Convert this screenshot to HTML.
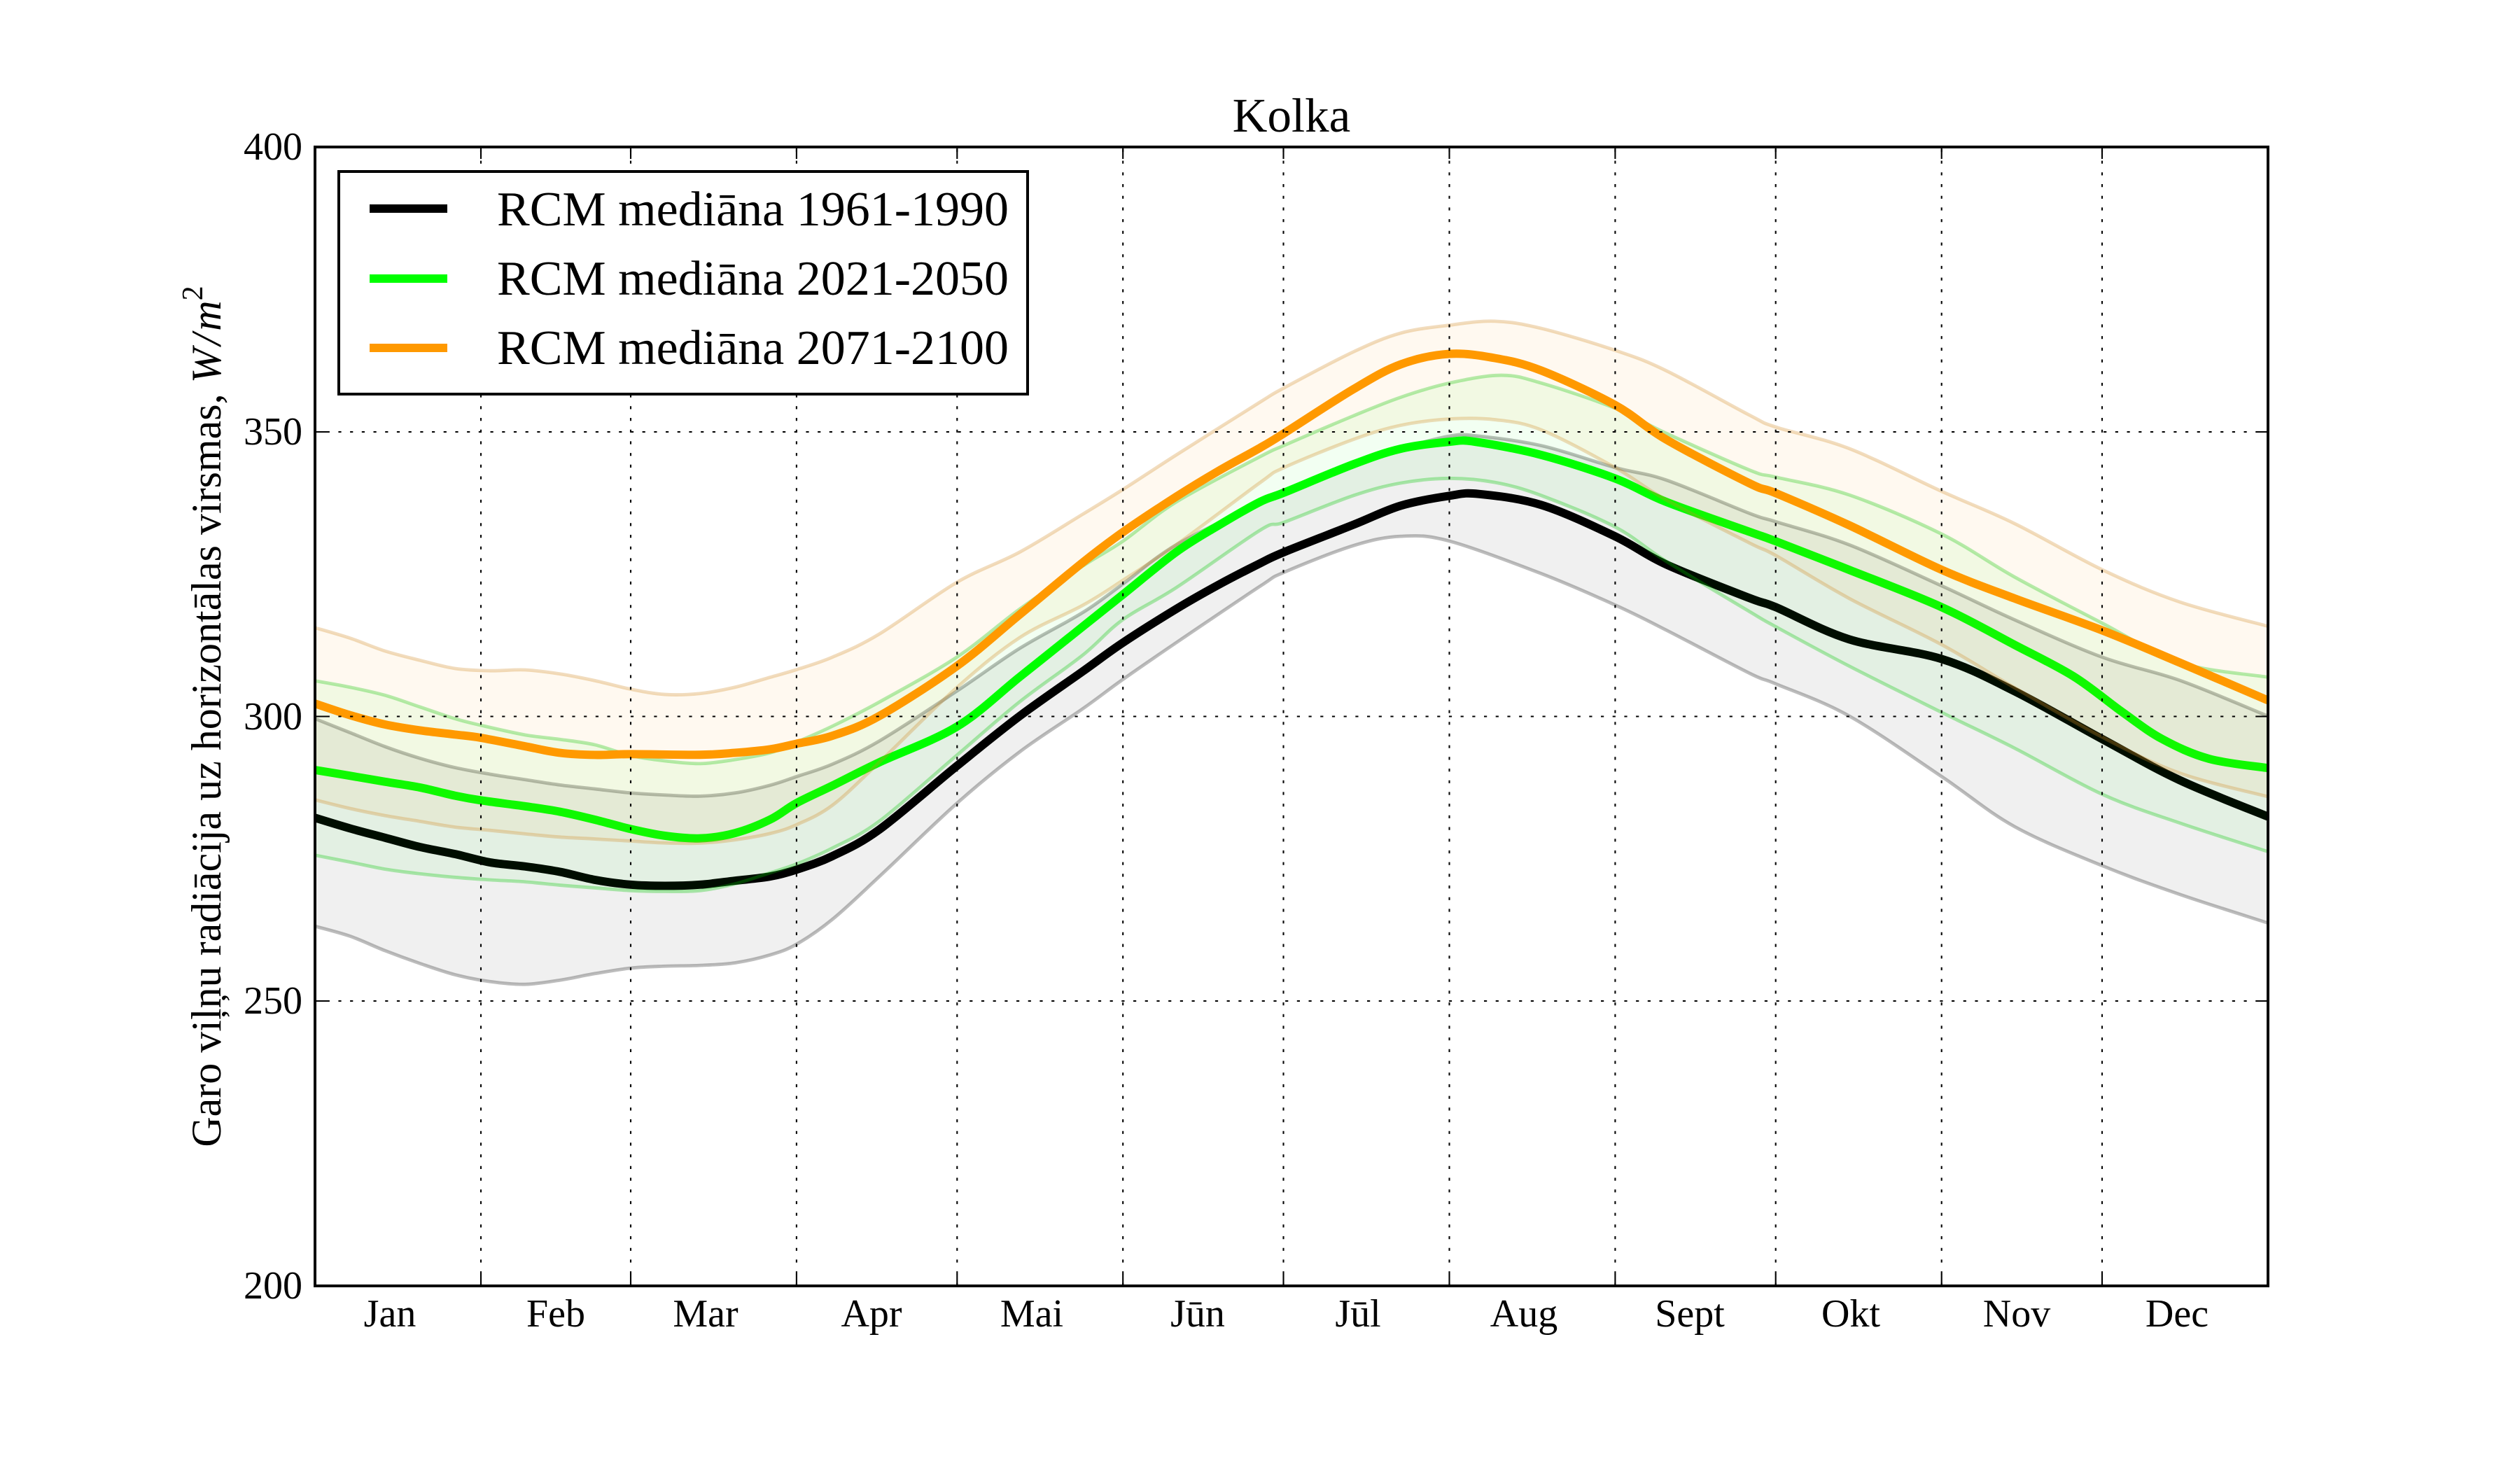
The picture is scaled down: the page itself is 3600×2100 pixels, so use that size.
<!DOCTYPE html>
<html>
<head>
<meta charset="utf-8">
<style>
html,body{margin:0;padding:0;background:#fff;}
svg{display:block;}
</style>
</head>
<body>
<svg xmlns="http://www.w3.org/2000/svg" width="3600" height="2100" viewBox="0 0 3600 2100" font-family="'Liberation Serif', 'DejaVu Serif', serif">
<defs>
<clipPath id="ax"><rect x="450" y="210" width="2790" height="1627"/></clipPath>
</defs>
<rect x="0" y="0" width="3600" height="2100" fill="#fff"/>

<g clip-path="url(#ax)">
<g id="plot" transform="matrix(2.2963 0 0 2.2915 -0.07 1.47)" fill="none" stroke-linejoin="round">
<!-- Gray band 1961-1990 -->
<polygon id="f1" fill="rgba(0,0,0,0.06)" stroke="none" points="196,447.4 217.8,456.1 239.5,464.8 261.3,472.1 283.1,477.9 304.9,482 326.6,485.4 348.4,488.7 370.2,491.2 392.4,493.7 413.7,495 435.5,495.7 457.3,493.7 479.1,488.9 495.6,483.5 518,475.7 547.1,461.3 595.3,430.2 634.5,403.5 673.5,381.3 698.5,363.5 731.8,339 784,313 799,306.4 842,288.8 871.5,279 901.5,271.3 918,271 959,277.2 1004.7,290.8 1036.5,298.6 1088.7,319.5 1104.8,324.6 1150.4,339 1208,364.6 1253.2,385.7 1308,409.1 1356,423.5 1411,445.8 1411,574.8 1356,556.9 1308,539.1 1253.2,514.6 1208,483.5 1150.4,445.7 1104.8,425.7 1088.7,419.2 1036.5,392.1 1004.7,376.5 959,357 901.5,336.6 871.5,333.7 842,339.5 799,356.1 784,364.8 731.8,400 698.5,423 673.5,441.3 634.5,468 595.3,500.2 547.1,545.8 518,572.4 495.6,588 479.1,594.7 457.3,599.6 435.5,601.2 413.7,601.7 392.4,602.9 370.2,606.3 348.4,610.4 326.6,613 304.9,611.3 283.1,607 261.3,600 239.5,592 217.8,583 196,576.8"/>
<polyline id="u1" stroke="rgba(0,0,0,0.26)" stroke-width="2.1" points="196,447.4 217.8,456.1 239.5,464.8 261.3,472.1 283.1,477.9 304.9,482 326.6,485.4 348.4,488.7 370.2,491.2 392.4,493.7 413.7,495 435.5,495.7 457.3,493.7 479.1,488.9 495.6,483.5 518,475.7 547.1,461.3 595.3,430.2 634.5,403.5 673.5,381.3 698.5,363.5 731.8,339 784,313 799,306.4 842,288.8 871.5,279 901.5,271.3 918,271 959,277.2 1004.7,290.8 1036.5,298.6 1088.7,319.5 1104.8,324.6 1150.4,339 1208,364.6 1253.2,385.7 1308,409.1 1356,423.5 1411,445.8"/>
<polyline id="l1" stroke="rgba(0,0,0,0.26)" stroke-width="2.1" points="196,576.8 217.8,583 239.5,592 261.3,600 283.1,607 304.9,611.3 326.6,613 348.4,610.4 370.2,606.3 392.4,602.9 413.7,601.7 435.5,601.2 457.3,599.6 479.1,594.7 495.6,588 518,572.4 547.1,545.8 595.3,500.2 634.5,468 673.5,441.3 698.5,423 731.8,400 784,364.8 799,356.1 842,339.5 871.5,333.7 901.5,336.6 959,357 1004.7,376.5 1036.5,392.1 1088.7,419.2 1104.8,425.7 1150.4,445.7 1208,483.5 1253.2,514.6 1308,539.1 1356,556.9 1411,574.8"/>
<!-- Black median -->
<polyline id="m1" stroke="#000" stroke-width="5.2" points="196,509.2 217.8,515.8 239.5,521.6 261.3,527.4 283.1,531.8 304.9,537 326.6,539.5 348.4,542.9 370.2,547.9 392.4,550.9 413.7,551.6 435.5,550.9 457.3,548.4 479.1,545.8 495.6,541.5 518,533 547.1,516.5 595.3,476.9 634.5,445.7 673.5,418 698.5,400.1 731.8,379 758,364 784,350.5 799,343.5 842,326.5 871.5,314.6 901.5,308.5 920,307.3 959,314.2 1004.7,333.7 1036.5,351.2 1088.7,372.3 1104.8,377.9 1150.4,397.9 1208,410.2 1253.2,430.2 1308,460.2 1356,485.7 1411,508.5"/>

<!-- Green band 2021-2050 -->
<polygon id="f2" fill="rgba(0,255,0,0.05)" stroke="none" points="196,423.8 217.8,427.8 239.5,432.8 261.3,440.1 283.1,447.4 299.1,451.5 326.6,457.5 348.4,460.3 370.2,463.7 392.4,470.4 413.7,473.7 435.5,475.4 457.3,472.9 479.1,468.7 495.6,462 518,452 547.1,437 595.3,409 634.5,379 673.5,352.3 698.5,336.8 731.8,312.3 784,284 799,277 842,258.6 871.5,247 901.5,238.2 934,233.3 959,238.2 1004.7,253.8 1036.5,269.4 1088.7,292.5 1104.8,296.8 1150.4,307.9 1208,332.3 1253.2,359 1308,387.9 1356,412.4 1411,421.5 1411,530.3 1356,512.4 1308,494.6 1253.2,465.7 1208,443.5 1150.4,414.6 1104.8,390.1 1088.7,380.8 1036.5,349.2 1004.7,327.8 959,308.3 930,300.1 901.5,297.6 871.5,300.5 842,308.3 799,324.9 784,329.9 731.8,365.7 698.5,385.7 673.5,407.9 634.5,436.8 595.3,470.2 547.1,511.3 518,528 495.6,538 479.1,543.5 457.3,550.4 435.5,554.6 413.7,555.1 392.4,554.6 370.2,552.9 348.4,551.2 326.6,549.1 304.9,547.9 283.1,546.3 261.3,544.1 239.5,541.2 217.8,536.8 196,532.5"/>
<polyline id="u2" stroke="rgba(0,200,0,0.3)" stroke-width="2.1" points="196,423.8 217.8,427.8 239.5,432.8 261.3,440.1 283.1,447.4 299.1,451.5 326.6,457.5 348.4,460.3 370.2,463.7 392.4,470.4 413.7,473.7 435.5,475.4 457.3,472.9 479.1,468.7 495.6,462 518,452 547.1,437 595.3,409 634.5,379 673.5,352.3 698.5,336.8 731.8,312.3 784,284 799,277 842,258.6 871.5,247 901.5,238.2 934,233.3 959,238.2 1004.7,253.8 1036.5,269.4 1088.7,292.5 1104.8,296.8 1150.4,307.9 1208,332.3 1253.2,359 1308,387.9 1356,412.4 1411,421.5"/>
<polyline id="l2" stroke="rgba(0,200,0,0.3)" stroke-width="2.1" points="196,532.5 217.8,536.8 239.5,541.2 261.3,544.1 283.1,546.3 304.9,547.9 326.6,549.1 348.4,551.2 370.2,552.9 392.4,554.6 413.7,555.1 435.5,554.6 457.3,550.4 479.1,543.5 495.6,538 518,528 547.1,511.3 595.3,470.2 634.5,436.8 673.5,407.9 698.5,385.7 731.8,365.7 784,329.9 799,324.9 842,308.3 871.5,300.5 901.5,297.6 930,300.1 959,308.3 1004.7,327.8 1036.5,349.2 1088.7,380.8 1104.8,390.1 1150.4,414.6 1208,443.5 1253.2,465.7 1308,494.6 1356,512.4 1411,530.3"/>
<!-- Green median -->
<polyline id="m2" stroke="#00ff00" stroke-width="5.2" points="196,479.4 217.8,483 239.5,486.7 261.3,490.3 283.1,495.4 299.1,498.3 326.6,502 348.4,505.4 370.2,510.4 392.4,516.2 413.7,520.4 435.5,522 457.3,518.7 479.1,510.3 495.6,500 518,489.1 547.1,474.6 595.3,452.4 634.5,421.3 673.5,390.1 698.5,370.1 731.8,343.5 758,327 784,312.2 799,306.4 842,288.8 871.5,279.1 901.5,274.8 918,274.8 959,283 1004.7,297.6 1036.5,312.2 1088.7,331 1104.8,336.8 1150.4,354.6 1208,377.9 1253.2,401.3 1290,421 1320,443 1345,460 1374.3,472.4 1411,478.2"/>

<!-- Orange band 2071-2100 -->
<polygon id="f3" fill="rgba(255,153,0,0.06)" stroke="none" points="196,390.7 217.8,397.2 239.5,405.2 261.3,411 283.1,416.1 304.9,417.5 326.6,417 348.4,419.5 370.2,423.7 392.4,429 413.7,432.3 435.5,431.7 457.3,427.8 479.1,421.6 495.6,416.8 518,409 547.1,394.6 595.3,362.4 634.5,343.5 673.5,320 698.5,304.6 731.8,283 784,250 799,241.1 842,218.7 871.5,207 901.5,202.1 930,199.6 959,204.1 1004.7,217.7 1036.5,230.4 1088.7,258.3 1104.8,265.6 1150.4,279 1208,305.7 1253.2,325.7 1308,354.6 1356,374.6 1411,389.8 1411,496 1356,481.3 1308,459 1253.2,428 1208,401.3 1150.4,372.4 1104.8,345.7 1088.7,338 1036.5,311 1004.7,290.8 959,267.4 930,261 901.5,260.6 871.5,264.5 842,273.3 799,290.8 784,300.2 731.8,339 698.5,361.2 673.5,376.8 634.5,396.8 595.3,428 547.1,474.6 518,501.3 495.6,513.5 479.1,519 457.3,522.9 435.5,525 413.7,524.9 392.4,523.7 370.2,522.4 348.4,521.2 326.6,519.2 304.9,517 283.1,515 261.3,511.4 239.5,507.8 217.8,503.4 196,498"/>
<polyline id="u3" stroke="rgba(210,140,40,0.3)" stroke-width="2.1" points="196,390.7 217.8,397.2 239.5,405.2 261.3,411 283.1,416.1 304.9,417.5 326.6,417 348.4,419.5 370.2,423.7 392.4,429 413.7,432.3 435.5,431.7 457.3,427.8 479.1,421.6 495.6,416.8 518,409 547.1,394.6 595.3,362.4 634.5,343.5 673.5,320 698.5,304.6 731.8,283 784,250 799,241.1 842,218.7 871.5,207 901.5,202.1 930,199.6 959,204.1 1004.7,217.7 1036.5,230.4 1088.7,258.3 1104.8,265.6 1150.4,279 1208,305.7 1253.2,325.7 1308,354.6 1356,374.6 1411,389.8"/>
<polyline id="l3" stroke="rgba(210,140,40,0.3)" stroke-width="2.1" points="196,498 217.8,503.4 239.5,507.8 261.3,511.4 283.1,515 304.9,517 326.6,519.2 348.4,521.2 370.2,522.4 392.4,523.7 413.7,524.9 435.5,525 457.3,522.9 479.1,519 495.6,513.5 518,501.3 547.1,474.6 595.3,428 634.5,396.8 673.5,376.8 698.5,361.2 731.8,339 784,300.2 799,290.8 842,273.3 871.5,264.5 901.5,260.6 930,261 959,267.4 1004.7,290.8 1036.5,311 1088.7,338 1104.8,345.7 1150.4,372.4 1208,401.3 1253.2,428 1308,459 1356,481.3 1411,496"/>
<!-- Orange median -->
<polyline id="m3" stroke="#ff9900" stroke-width="5.2" points="196,438 217.8,445.2 239.5,451 261.3,454.7 283.1,457.3 299.1,459.3 326.6,464.6 348.4,468.7 370.2,470 392.4,469.5 435.5,469.9 457.3,468.7 479.1,466.5 495.6,463 518,458 547.1,445.7 595.3,414.6 634.5,382.4 673.5,350.1 698.5,331.2 731.8,309 758,293 784,278.5 799,269.4 842,242 871.5,226.5 901.5,220 930,222.6 959,230.4 1004.7,251.8 1036.5,273.3 1088.7,300.8 1104.8,306.8 1150.4,326.8 1208,354.6 1253.2,372.4 1308,392.4 1356,412.4 1411,436"/>
</g>
</g>

<!-- Grid -->
<g stroke="#000" stroke-width="2.1" stroke-dasharray="4.2 12.5" fill="none">
<line x1="687" y1="1837" x2="687" y2="210"/>
<line x1="901" y1="1837" x2="901" y2="210"/>
<line x1="1137.9" y1="1837" x2="1137.9" y2="210"/>
<line x1="1367.3" y1="1837" x2="1367.3" y2="210"/>
<line x1="1604.2" y1="1837" x2="1604.2" y2="210"/>
<line x1="1833.5" y1="1837" x2="1833.5" y2="210"/>
<line x1="2070.5" y1="1837" x2="2070.5" y2="210"/>
<line x1="2307.4" y1="1837" x2="2307.4" y2="210"/>
<line x1="2536.7" y1="1837" x2="2536.7" y2="210"/>
<line x1="2773.7" y1="1837" x2="2773.7" y2="210"/>
<line x1="3003" y1="1837" x2="3003" y2="210"/>
<line x1="450" y1="617" x2="3240" y2="617"/>
<line x1="450" y1="1023.5" x2="3240" y2="1023.5"/>
<line x1="450" y1="1430" x2="3240" y2="1430"/>
</g>

<!-- Ticks -->
<g stroke="#000" stroke-width="2.1">
<path d="M687 1837v-17M687 210v17M901 1837v-17M901 210v17M1137.9 1837v-17M1137.9 210v17M1367.3 1837v-17M1367.3 210v17M1604.2 1837v-17M1604.2 210v17M1833.5 1837v-17M1833.5 210v17M2070.5 1837v-17M2070.5 210v17M2307.4 1837v-17M2307.4 210v17M2536.7 1837v-17M2536.7 210v17M2773.7 1837v-17M2773.7 210v17M3003 1837v-17M3003 210v17"/>
<path d="M450 617h17M3240 617h-17M450 1023.5h17M3240 1023.5h-17M450 1430h17M3240 1430h-17"/>
</g>

<!-- Legend -->
<rect x="484" y="245" width="984" height="318" fill="#fff" stroke="#000" stroke-width="4"/>
<line x1="528" y1="298" x2="639" y2="298" stroke="#000" stroke-width="12"/>
<line x1="528" y1="398" x2="639" y2="398" stroke="#00ff00" stroke-width="12"/>
<line x1="528" y1="497" x2="639" y2="497" stroke="#ff9900" stroke-width="12"/>
<g font-size="70" fill="#000">
<text x="710" y="322">RCM mediāna 1961-1990</text>
<text x="710" y="421">RCM mediāna 2021-2050</text>
<text x="710" y="520">RCM mediāna 2071-2100</text>
</g>

<!-- Axes frame -->
<rect x="450" y="210" width="2790" height="1627" fill="none" stroke="#000" stroke-width="4"/>

<!-- Title -->
<text x="1845" y="188" font-size="69" text-anchor="middle" fill="#000">Kolka</text>

<!-- Y tick labels -->
<g font-size="56" text-anchor="end" fill="#000">
<text x="432" y="228">400</text>
<text x="432" y="635">350</text>
<text x="432" y="1042">300</text>
<text x="432" y="1448">250</text>
<text x="432" y="1855">200</text>
</g>

<!-- X tick labels -->
<g font-size="56" text-anchor="middle" fill="#000">
<text x="557" y="1895">Jan</text>
<text x="794" y="1895">Feb</text>
<text x="1008" y="1895">Mar</text>
<text x="1245" y="1895">Apr</text>
<text x="1474" y="1895">Mai</text>
<text x="1711" y="1895">Jūn</text>
<text x="1940" y="1895">Jūl</text>
<text x="2177" y="1895">Aug</text>
<text x="2414" y="1895">Sept</text>
<text x="2644" y="1895">Okt</text>
<text x="2881" y="1895">Nov</text>
<text x="3110" y="1895">Dec</text>
</g>

<!-- Y axis label -->
<text transform="translate(315 1023.5) rotate(-90)" font-size="60" text-anchor="middle" fill="#000">Garo viļņu radiācija uz horizontālas virsmas, <tspan font-style="italic">W</tspan><tspan font-style="italic" dx="4">/</tspan><tspan font-style="italic" dx="4">m</tspan><tspan font-size="42" dy="-26">2</tspan></text>
</svg>
<script>
(function(){
  var NS = "http://www.w3.org/2000/svg";
  function parse(el){
    return el.getAttribute("points").trim().split(/\s+/).map(function(s){
      var a = s.split(","); return [parseFloat(a[0]), parseFloat(a[1])];
    });
  }
  function segs(p){
    var d = "";
    for (var i = 0; i < p.length - 1; i++){
      var p0 = p[i-1] || p[i], p1 = p[i], p2 = p[i+1], p3 = p[i+2] || p[i+1];
      var c1x = p1[0] + (p2[0]-p0[0])/6, c1y = p1[1] + (p2[1]-p0[1])/6;
      var c2x = p2[0] - (p3[0]-p1[0])/6, c2y = p2[1] - (p3[1]-p1[1])/6;
      d += " C" + c1x.toFixed(2) + "," + c1y.toFixed(2) + " " + c2x.toFixed(2) + "," + c2y.toFixed(2) + " " + p2[0] + "," + p2[1];
    }
    return d;
  }
  function smooth(p){ return "M" + p[0][0] + "," + p[0][1] + segs(p); }
  function replace(el, d){
    var path = document.createElementNS(NS, "path");
    for (var i = 0; i < el.attributes.length; i++){
      var a = el.attributes[i];
      if (a.name !== "points") path.setAttribute(a.name, a.value);
    }
    path.setAttribute("d", d);
    el.parentNode.replaceChild(path, el);
  }
  try {
    var data = {};
    ["u1","l1","m1","u2","l2","m2","u3","l3","m3"].forEach(function(id){
      var el = document.getElementById(id);
      if (el) data[id] = parse(el);
    });
    [1,2,3].forEach(function(k){
      var f = document.getElementById("f"+k);
      var up = data["u"+k], lo = data["l"+k];
      if (f && up && lo){
        var rev = lo.slice().reverse();
        var d = smooth(up) + " L" + rev[0][0] + "," + rev[0][1] + segs(rev) + " Z";
        replace(f, d);
      }
    });
    Object.keys(data).forEach(function(id){
      var el = document.getElementById(id);
      if (el) replace(el, smooth(data[id]));
    });
  } catch(e) {}
})();
</script>
</body>
</html>
